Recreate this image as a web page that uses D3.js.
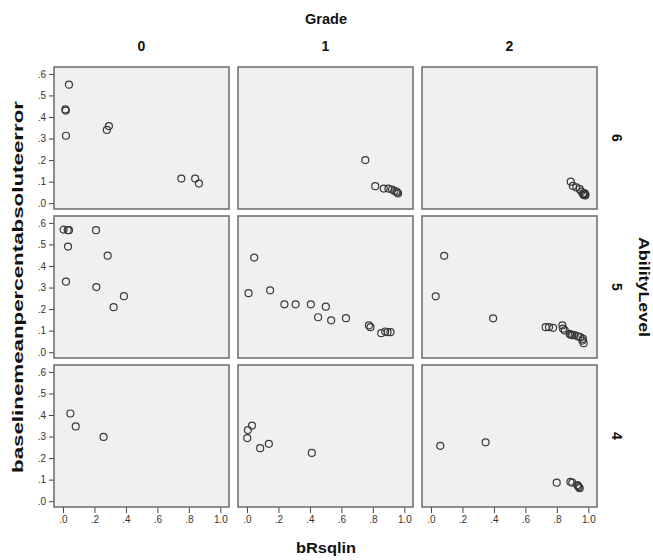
<!DOCTYPE html>
<html>
<head>
<meta charset="utf-8">
<script src="https://cdn.jsdelivr.net/npm/d3@7"></script>
<style>
  body { margin: 0; background: #fff; }
  text { font-family: "Liberation Sans", Arial, sans-serif; }
</style>
</head>
<body>
<div id="chart"></div>
<script>
// facet categories
var grades = ["0", "1", "2"];
var abilityLevels = ["6", "5", "4"];

// tick values
var xTicks = [0, 0.2, 0.4, 0.6, 0.8, 1.0];
var yTicks = [0, 0.1, 0.2, 0.3, 0.4, 0.5, 0.6];

// points [bRsqlin, baselinemeanpercentabsoluteerror] per AbilityLevel / Grade
var a6g0 = [[0.038, 0.55], [0.015, 0.435], [0.018, 0.43], [0.019, 0.313], [0.279, 0.34],
            [0.292, 0.358], [0.752, 0.114], [0.84, 0.114], [0.864, 0.091]];
var a6g1 = [[0.752, 0.2], [0.815, 0.079], [0.869, 0.068], [0.899, 0.068], [0.922, 0.063],
            [0.937, 0.057], [0.949, 0.053], [0.96, 0.045], [0.955, 0.05]];
var a6g2 = [[0.888, 0.1], [0.902, 0.08], [0.924, 0.073], [0.945, 0.065], [0.955, 0.054],
            [0.966, 0.045], [0.977, 0.042], [0.972, 0.038], [0.98, 0.036], [0.968, 0.04],
            [0.975, 0.047], [0.982, 0.04]];
var a5g0 = [[0.004, 0.569], [0.03, 0.566], [0.038, 0.566], [0.21, 0.566], [0.032, 0.49],
            [0.284, 0.448], [0.019, 0.327], [0.212, 0.302], [0.387, 0.26], [0.322, 0.209]];
var a5g1 = [[0.046, 0.439], [0.01, 0.274], [0.147, 0.287], [0.238, 0.222], [0.309, 0.222],
            [0.406, 0.222], [0.501, 0.211], [0.452, 0.162], [0.535, 0.148], [0.629, 0.158],
            [0.775, 0.124], [0.785, 0.116], [0.853, 0.088], [0.878, 0.096], [0.893, 0.093],
            [0.912, 0.093]];
var a5g2 = [[0.084, 0.447], [0.03, 0.259], [0.395, 0.157], [0.729, 0.116], [0.75, 0.116],
            [0.776, 0.113], [0.835, 0.124], [0.839, 0.109], [0.85, 0.101], [0.881, 0.085],
            [0.885, 0.082], [0.898, 0.079], [0.893, 0.08], [0.913, 0.079], [0.934, 0.073],
            [0.949, 0.07], [0.962, 0.054], [0.97, 0.042], [0.966, 0.062]];
var a4g0 = [[0.047, 0.407], [0.081, 0.347], [0.258, 0.298]];
var a4g1 = [[0.032, 0.351], [0.006, 0.33], [0.002, 0.293], [0.084, 0.246], [0.139, 0.266],
            [0.412, 0.224]];
var a4g2 = [[0.059, 0.257], [0.347, 0.273], [0.799, 0.086], [0.886, 0.09], [0.898, 0.086],
            [0.93, 0.075], [0.94, 0.065], [0.945, 0.06], [0.935, 0.07]];

var panels = {
  "6": [a6g0, a6g1, a6g2],
  "5": [a5g0, a5g1, a5g2],
  "4": [a4g0, a4g1, a4g2]
};

var width = 653, height = 560;
var margin = { top: 67, left: 54 };
var panelW = 175, panelH = 142, gapX = 9, gapY = 7;
var gridMidY = margin.top + (3 * panelH + 2 * gapY) / 2;

var svg = d3.select("#chart").append("svg")
    .attr("width", width)
    .attr("height", height);

var x = d3.scaleLinear().domain([-0.057, 1.055]).range([0, panelW]);
var y = d3.scaleLinear().domain([-0.027, 0.632]).range([panelH, 0]);

var fmt = function(d) { return d3.format(".1f")(d).replace(/^0/, ""); };

// bold label helper, stretched like the original picture
function label(transform, txt, len) {
  var t = svg.append("text")
      .attr("transform", transform)
      .attr("text-anchor", "middle")
      .attr("font-size", 14).attr("font-weight", "bold")
      .attr("fill", "#111")
      .text(txt);
  if (len) t.attr("textLength", len).attr("lengthAdjust", "spacingAndGlyphs");
  return t;
}

// outer titles
label("translate(326,24)", "Grade", 42);
label("translate(326,553)", "bRsqlin", 60);
label("translate(23," + gridMidY + ") rotate(-90)", "baselinemeanpercentabsoluteerror", 372);
label("translate(639," + gridMidY + ") rotate(90)", "AbilityLevel", 100);

abilityLevels.forEach(function(lvl, r) {
  var py = margin.top + r * (panelH + gapY);

  // row label on the right
  label("translate(612," + (py + panelH / 2) + ") rotate(90)", lvl);

  grades.forEach(function(gr, c) {
    var px = margin.left + c * (panelW + gapX);

    if (r === 0) label("translate(" + (px + panelW / 2) + ",51)", gr);

    var g = svg.append("g")
        .attr("transform", "translate(" + px + "," + py + ")");

    g.append("rect")
        .attr("width", panelW).attr("height", panelH)
        .attr("fill", "#f0f0f0");

    // y axis on the first column
    if (c === 0) {
      var ya = g.append("g")
          .call(d3.axisLeft(y).tickValues(yTicks).tickFormat(fmt).tickSize(5).tickSizeOuter(0));
      ya.select(".domain").remove();
      ya.selectAll("line").attr("stroke", "#444");
      ya.selectAll("text").attr("font-size", 10).attr("fill", "#333")
          .attr("font-family", "'Liberation Sans', Arial, sans-serif");
    }

    // x axis on the bottom row
    if (r === abilityLevels.length - 1) {
      var xa = g.append("g")
          .attr("transform", "translate(0," + panelH + ")")
          .call(d3.axisBottom(x).tickValues(xTicks).tickFormat(fmt).tickSize(6).tickSizeOuter(0));
      xa.select(".domain").remove();
      xa.selectAll("line").attr("stroke", "#444");
      xa.selectAll("text").attr("font-size", 10).attr("fill", "#333")
          .attr("font-family", "'Liberation Sans', Arial, sans-serif");
    }

    g.selectAll("circle")
        .data(panels[lvl][c])
        .enter().append("circle")
        .attr("cx", function(d) { return x(d[0]); })
        .attr("cy", function(d) { return y(d[1]); })
        .attr("r", 3.5)
        .attr("fill", "none")
        .attr("stroke", "#3a3a3a")
        .attr("stroke-width", 1.2);

    g.append("rect")
        .attr("width", panelW).attr("height", panelH)
        .attr("fill", "none")
        .attr("stroke", "#6a6a6a")
        .attr("stroke-width", 1.5);
  });
});
</script>
</body>
</html>
